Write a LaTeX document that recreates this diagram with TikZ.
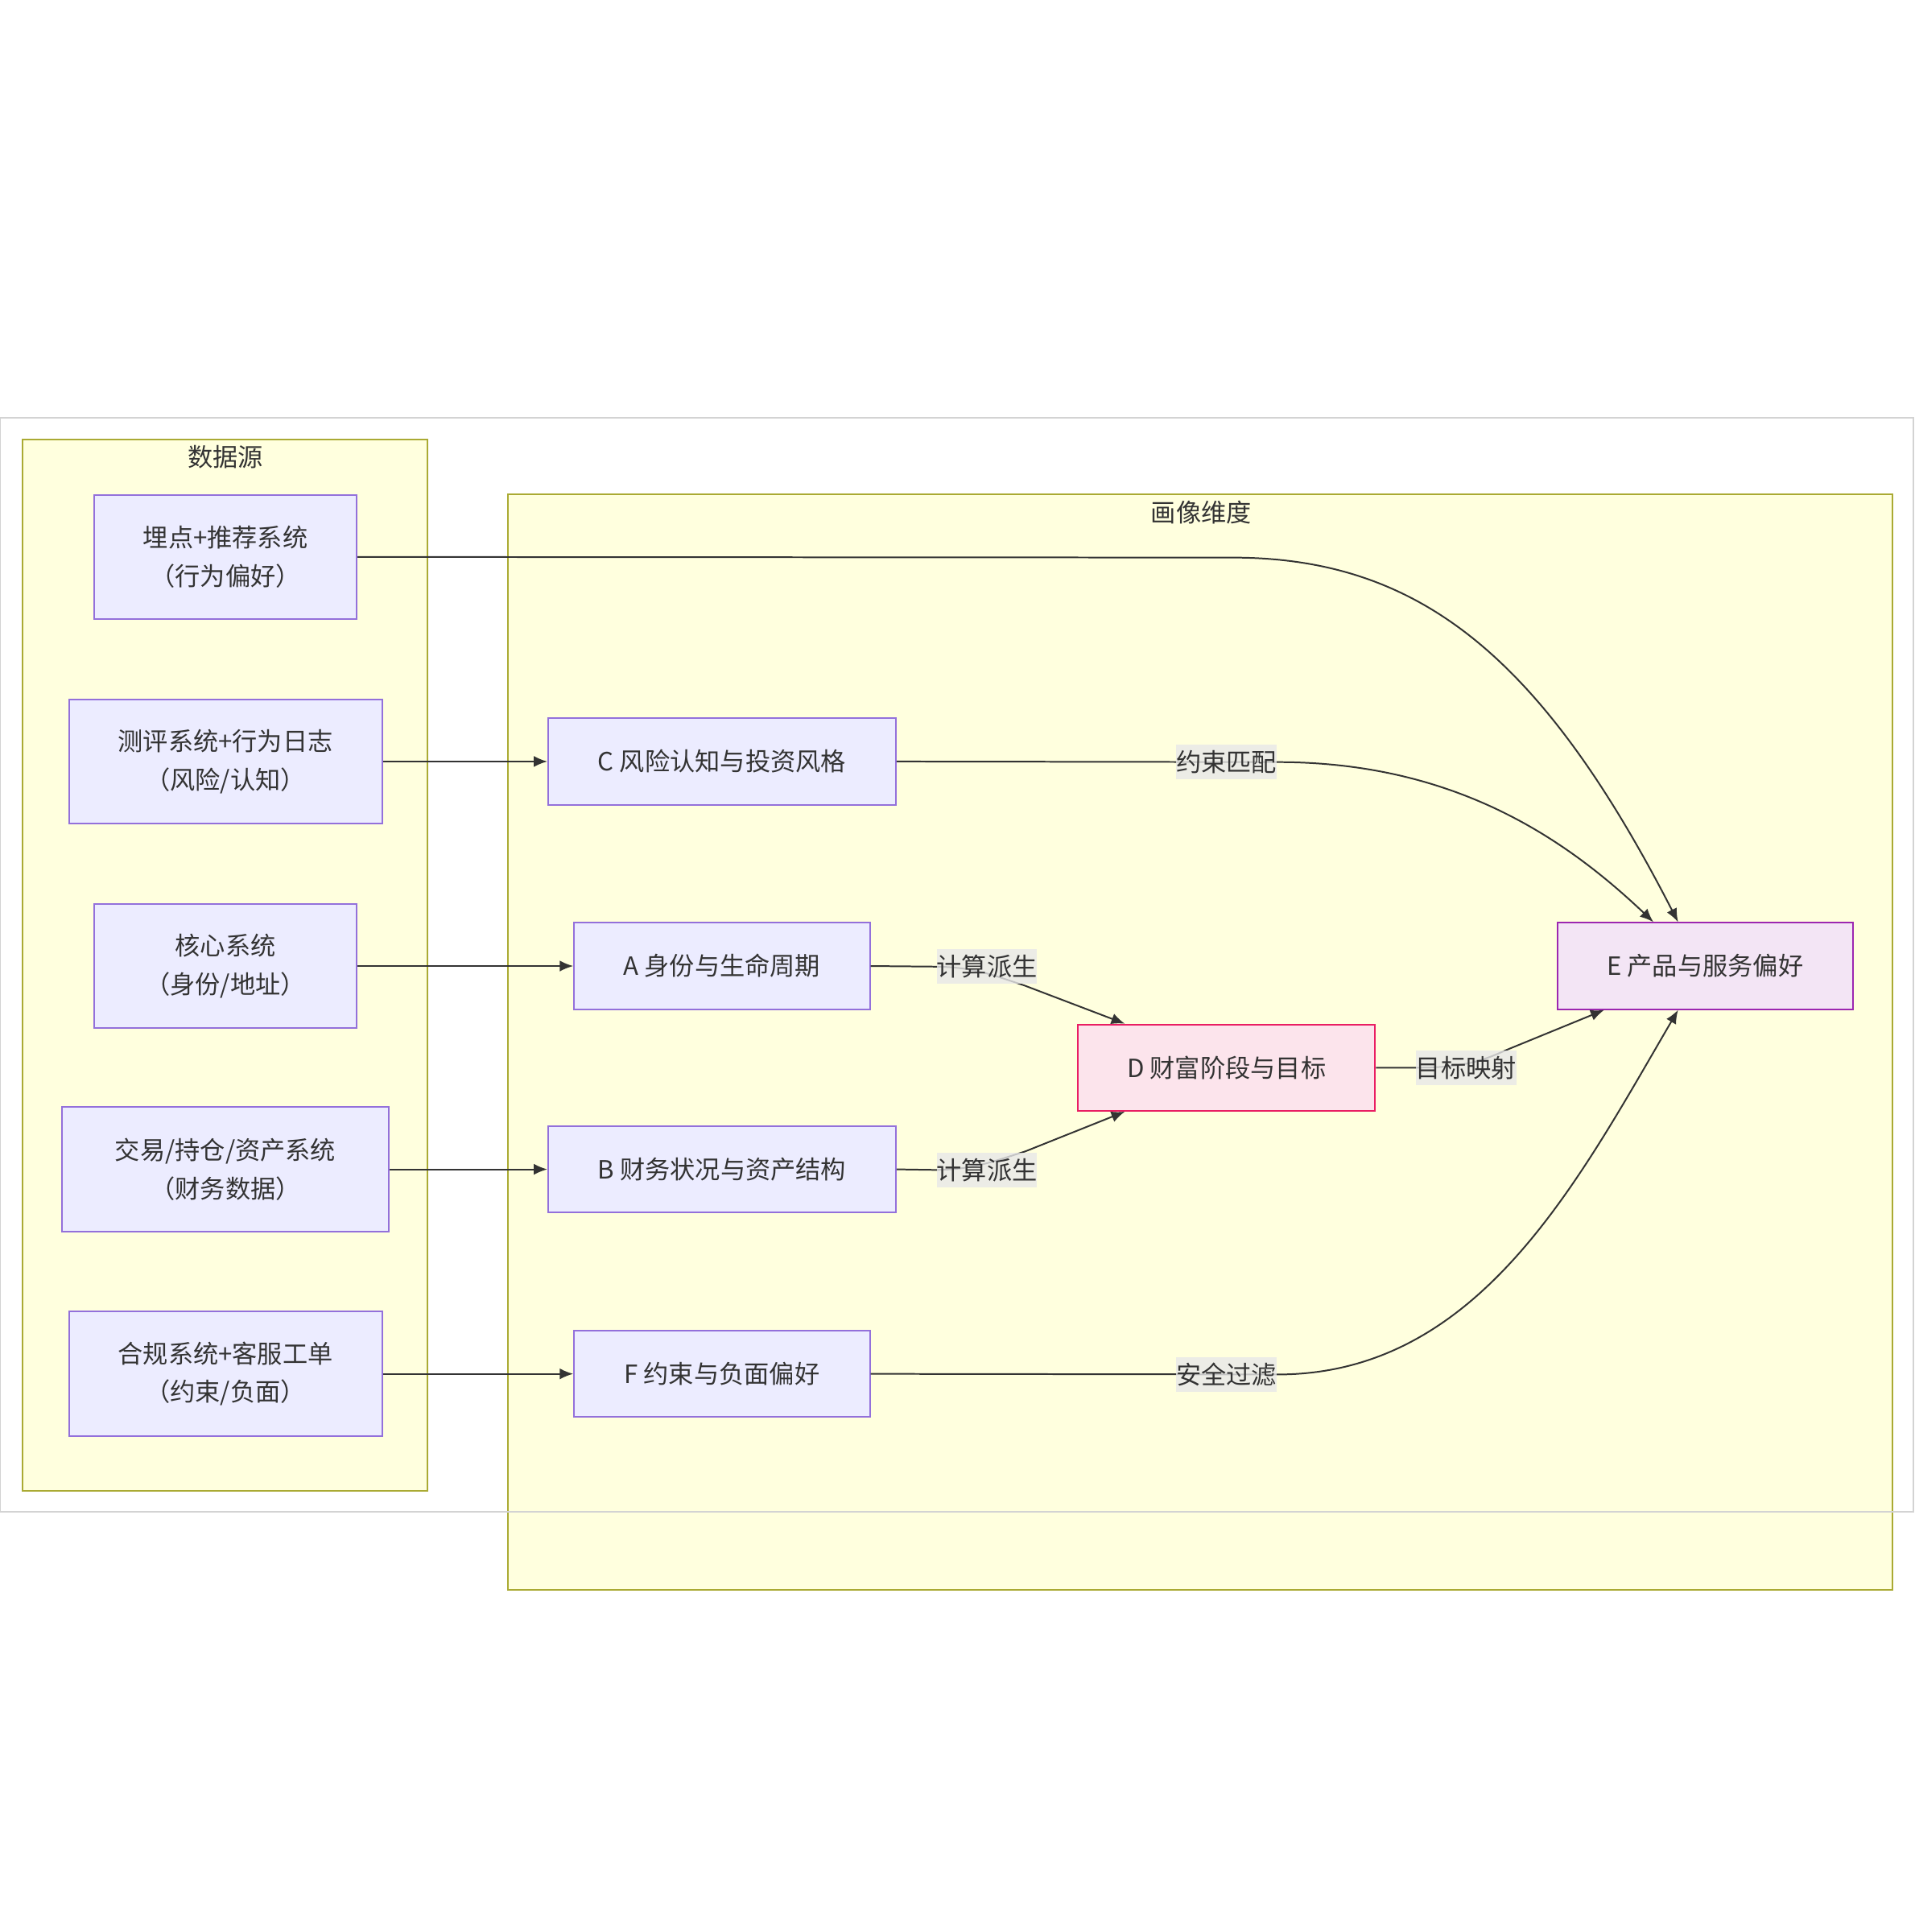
\documentclass[tikz,border=0pt]{standalone}
\usepackage{fontspec}
\setmainfont{Noto Sans CJK SC}
\usetikzlibrary{arrows.meta, positioning, calc}
\definecolor{nodefill}{HTML}{ECECFF}
\definecolor{nodeline}{HTML}{9370DB}
\definecolor{clusterfill}{HTML}{FFFFDE}
\definecolor{clusterline}{HTML}{AAAA33}
\definecolor{wealthfill}{HTML}{FCE4EC}
\definecolor{wealthline}{HTML}{E91E63}
\definecolor{prodfill}{HTML}{F3E5F5}
\definecolor{prodline}{HTML}{9C27B0}
\definecolor{labelfill}{HTML}{E8E8E8}
\definecolor{inkgray}{HTML}{333333}
\definecolor{framegray}{HTML}{D3D3D3}
\newcommand{\diagfont}{\fontsize{5.8pt}{8.8pt}\selectfont}
\tikzset{
  clusterbox/.style={
    fill = clusterfill,
    draw = clusterline,
    line width = 0.013cm
  },
  clustertitle/.style={
    text = inkgray,
    font = \diagfont,
    inner sep = 0
  },
  sourcebox/.style={
    rectangle,
    fill = nodefill,
    draw = nodeline,
    line width = 0.013cm,
    minimum height = 1.01cm,
    align = center,
    text = inkgray,
    font = \diagfont
  },
  dimbox/.style={
    sourcebox,
    minimum height = 0.70cm
  },
  flowline/.style={
    line width = 0.013cm,
    draw = inkgray,
    arrows = {-Latex[length=0.11cm, width=0.09cm]}
  },
  flowlabel/.style={
    fill = labelfill,
    fill opacity = 0.8,
    text opacity = 1,
    text = inkgray,
    font = \diagfont,
    inner xsep = 0,
    inner ysep = 0,
    minimum height = 0.28cm
  }
}

\begin{document}
\begin{tikzpicture}[x=0.01cm, y=-0.01cm]
    \useasboundingbox (0,0) rectangle (1554,1568);
    % clusters
    \draw[clusterbox] (18,357) rectangle (347,1210);
    \draw[clusterbox] (412,401) rectangle (1536,1290);
    \draw[framegray, line width=0.013cm] (0,339) rectangle (1553,1227);
    \node[clustertitle] (srctitle) at (183,371) {数据源};
    \node[clustertitle] (dimtitle) at (975,416) {画像维度};

    \coordinate (trackpos) at (183,452);
    \coordinate (surveypos) at (183,618);
    \coordinate (corepos) at (183,784);
    \coordinate (tradepos) at (183,949);
    \coordinate (compliancepos) at (183,1115);
    \coordinate (riskpos) at (586,618);
    \coordinate (identitypos) at (586,784);
    \coordinate (financepos) at (586,949);
    \coordinate (limitpos) at (586,1115);
    \coordinate (wealthpos) at (995.5,866.5);
    \coordinate (productpos) at (1384,784);

    % data sources
    \node (track) at (trackpos)[sourcebox, minimum width=2.13cm]{埋点+推荐系统\\（行为偏好）};
    \node (survey) at (surveypos)[sourcebox, minimum width=2.54cm]{测评系统+行为日志\\（风险/认知）};
    \node (core) at (corepos)[sourcebox, minimum width=2.13cm]{核心系统\\（身份/地址）};
    \node (trade) at (tradepos)[sourcebox, minimum width=2.65cm]{交易/持仓/资产系统\\（财务数据）};
    \node (compliance) at (compliancepos)[sourcebox, minimum width=2.54cm]{合规系统+客服工单\\（约束/负面）};

    % profile dimensions
    \node (risk) at (riskpos)[dimbox, minimum width=2.82cm]{C 风险认知与投资风格};
    \node (identity) at (identitypos)[dimbox, minimum width=2.40cm]{A 身份与生命周期};
    \node (finance) at (financepos)[dimbox, minimum width=2.82cm]{B 财务状况与资产结构};
    \node (limit) at (limitpos)[dimbox, minimum width=2.40cm]{F 约束与负面偏好};
    \node (wealth) at (wealthpos)[dimbox, minimum width=2.41cm, fill=wealthfill, draw=wealthline]{D 财富阶段与目标};
    \node (product) at (productpos)[dimbox, minimum width=2.40cm, fill=prodfill, draw=prodline]{E 产品与服务偏好};

    \coordinate (tracktail) at (1000,452.5);
    \coordinate (matchpos) at (995.5,618.5);
    \coordinate (matchright) at (1037,618.5);
    \coordinate (derivetop) at (801,784.5);
    \coordinate (derivebot) at (801,949.5);
    \coordinate (goalpos) at (1190,866.5);
    \coordinate (safepos) at (995.5,1115.5);
    \coordinate (saferight) at (1037,1115.5);

    \draw[flowline] (survey.east) -- (risk.west);
    \draw[flowline] (core.east) -- (identity.west);
    \draw[flowline] (trade.east) -- (finance.west);
    \draw[flowline] (compliance.east) -- (limit.west);

    \draw[flowline] (track.east) -- (tracktail) .. controls (1150,452.5) and (1250,530) .. ($(product.north)+(-22,0)$);
    \draw[flowline] (risk.east) -- (matchright) .. controls (1180,618.5) and (1270,680) .. ($(product.north)+(-42,0)$);
    \draw[flowline] (identity.east) -- (760,784.5) .. controls (790,785) and (805,791) .. (832,800) -- ($(wealth.north)+(-82.5,0)$);
    \draw[flowline] (finance.east) -- (760,949.5) .. controls (790,949) and (805,943) .. (832,934.5) -- ($(wealth.south)+(-82.5,0)$);
    \draw[flowline] (wealth.east) -- (1150,866.5) .. controls (1190,866.5) and (1205,860) .. (1223,852) -- ($(product.south)+(-82,0)$);
    \draw[flowline] (limit.east) -- (saferight) .. controls (1200,1115.5) and (1280,960) .. ($(product.south)+(-22,0)$);

    % edge labels
    \node (matchlabel) at (matchpos)[flowlabel]{约束匹配};
    \node (derivelabelA) at (derivetop)[flowlabel]{计算派生};
    \node (derivelabelB) at (derivebot)[flowlabel]{计算派生};
    \node (goallabel) at (goalpos)[flowlabel]{目标映射};
    \node (safelabel) at (safepos)[flowlabel]{安全过滤};
\end{tikzpicture}
\end{document}
